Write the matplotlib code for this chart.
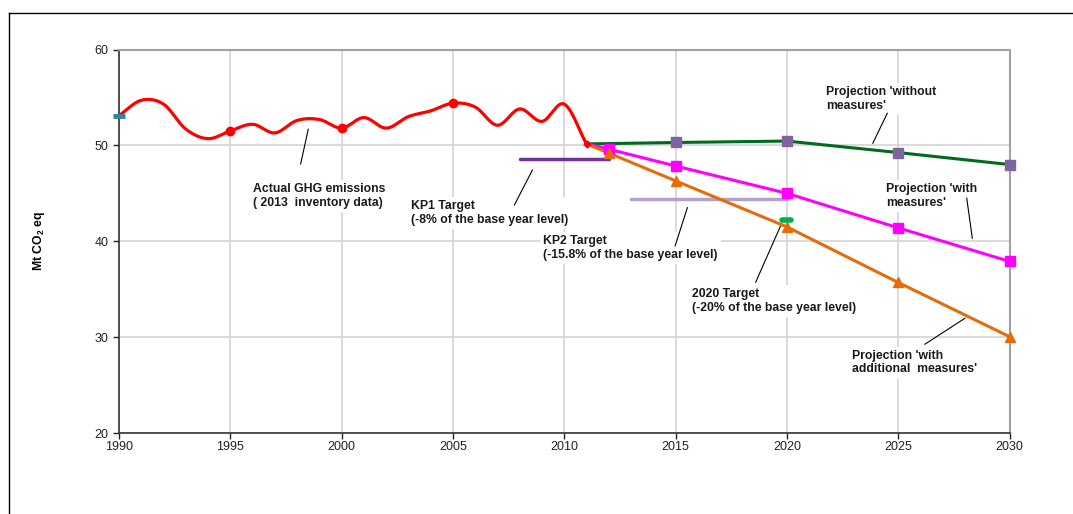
import numpy as np
import matplotlib
matplotlib.use("Agg")
import matplotlib.pyplot as plt
from matplotlib.lines import Line2D

plt.rcParams['font.family'] = ['Liberation Sans', 'DejaVu Sans']
plt.rcParams['mathtext.fontset'] = 'custom'
plt.rcParams['mathtext.rm'] = 'Liberation Sans'
plt.rcParams['mathtext.bf'] = 'Liberation Sans:bold'

# ---------------- data ----------------
hist_years = list(range(1990, 2012))
hist_values = [53.1, 54.7, 54.3, 51.7, 50.7, 51.5, 52.2, 51.3, 52.6, 52.7, 51.8,
               52.9, 51.8, 53.0, 53.6, 54.4, 54.0, 52.1, 53.8, 52.5, 54.3, 50.15]
hist_marker_years = [1995, 2000, 2005]

proj_years = [2011, 2015, 2020, 2025, 2030]
wom_values = [50.15, 50.3, 50.45, 49.25, 48.0]

wm_years = [2011, 2012, 2015, 2020, 2025, 2030]
wm_values = [50.15, 49.6, 47.85, 45.0, 41.4, 37.9]

wam_years = [2011, 2012, 2015, 2020, 2025, 2030]
wam_values = [50.15, 49.2, 46.3, 41.5, 35.7, 30.05]

kp1_years = [2008, 2012]
kp1_value = 48.6
kp2_years = [2013, 2020]
kp2_value = 44.4
t2020_year = 2020
t2020_value = 42.2

x_ticks = [1990, 1995, 2000, 2005, 2010, 2015, 2020, 2025, 2030]
y_ticks = [20, 30, 40, 50, 60]


def catmull_rom(xs, ys, n=30):
    xs = np.asarray(xs, float)
    ys = np.asarray(ys, float)
    P = np.column_stack([xs, ys])
    P = np.vstack([P[0] - (P[1] - P[0]), P, P[-1] + (P[-1] - P[-2])])
    out = []
    t = np.linspace(0, 1, n, endpoint=False)[:, None]
    for i in range(1, len(P) - 2):
        p0, p1, p2, p3 = P[i - 1], P[i], P[i + 1], P[i + 2]
        c1 = p1 + (p2 - p0) / 6.0
        c2 = p2 - (p3 - p1) / 6.0
        seg = ((1 - t) ** 3) * p1 + 3 * ((1 - t) ** 2) * t * c1 + 3 * (1 - t) * t ** 2 * c2 + t ** 3 * p2
        out.append(seg)
    out.append(P[-2][None, :])
    out = np.vstack(out)
    return out[:, 0], out[:, 1]


fig = plt.figure(figsize=(10.73, 5.14), dpi=100)
W, H = 1073, 514
L, R, T, B = 119, 1009.5, 49.5, 433
ax = fig.add_axes([L / W, 1 - B / H, (R - L) / W, (B - T) / H])

# figure frame (top and left)
fig.add_artist(Line2D([9.3 / W, 1.0], [1 - 13.3 / H, 1 - 13.3 / H], color='black', lw=1.0))
fig.add_artist(Line2D([9.3 / W, 9.3 / W], [0, 1 - 13.3 / H], color='black', lw=1.0))

ax.set_xlim(1990, 2030)
ax.set_ylim(20, 60)
ax.set_xticks(x_ticks)
ax.set_yticks(y_ticks)
ax.grid(True, color='#D4D4D4', lw=1.2, zorder=0)
ax.set_axisbelow(True)
ax.tick_params(labelsize=9, colors='#222222', length=4, width=1, direction='out')
ax.tick_params(axis='x', pad=2)
for s in ['left', 'bottom']:
    ax.spines[s].set_color('#333333')
    ax.spines[s].set_linewidth(1.2)
for s in ['top', 'right']:
    ax.spines[s].set_color('#A0A0A0')
    ax.spines[s].set_linewidth(1.5)

ax.set_ylabel(r"Mt CO$_\mathbf{2}$ eq", fontsize=8.8, fontweight='bold', labelpad=34)

# historical smoothed line
sx, sy = catmull_rom(hist_years, hist_values)
ax.plot(sx, sy, color='#FF0000', lw=2.3, zorder=4, solid_capstyle='round')
mk_vals = [hist_values[hist_years.index(y)] for y in hist_marker_years]
ax.plot(hist_marker_years, mk_vals, 'o', color='#FF0000', ms=6, zorder=5)
ax.plot([hist_years[0]], [hist_values[0]], marker='_', color='#31859C', ms=8, mew=3.5, zorder=6, clip_on=False)
ax.plot([hist_years[-1]], [hist_values[-1]], marker='D', color='#FF0000', ms=3.5, zorder=5)

# targets
ax.plot(kp1_years, [kp1_value] * 2, color='#7030A0', lw=2.5, zorder=3, solid_capstyle='round')
ax.plot(kp2_years, [kp2_value] * 2, color='#B3A2C7', lw=2.5, zorder=3, solid_capstyle='round')
ax.plot([t2020_year - 0.2, t2020_year + 0.2], [t2020_value] * 2, color='#00B050', lw=4,
        solid_capstyle='round', zorder=6)

# projections
ax.plot(proj_years, wom_values, color='#006B1E', lw=2.2, zorder=4)
ax.plot(proj_years[1:], wom_values[1:], 's', color='#8064A2', ms=6.5, zorder=5, clip_on=False)
ax.plot(wm_years, wm_values, color='#FF00FF', lw=2.2, zorder=4)
ax.plot(wm_years[1:], wm_values[1:], 's', color='#FF00FF', ms=6.5, zorder=5, clip_on=False)
ax.plot(wam_years, wam_values, color='#E46C0A', lw=2.2, zorder=4)
ax.plot(wam_years[1:], wam_values[1:], '^', color='#E46C0A', ms=7, zorder=5, clip_on=False)

# annotations
notes = [
    ("Actual GHG emissions\n( 2013  inventory data)", (1996.0, 46.07), ((1998.5, 51.68), (1998.16, 48.06))),
    ("KP1 Target\n(-8% of the base year level)", (2003.1, 44.33), ((2008.57, 47.43), (2007.76, 43.78))),
    ("KP2 Target\n(-15.8% of the base year level)", (2009.06, 40.68), ((2015.53, 43.5), (2014.98, 39.51))),
    ("2020 Target\n(-20% of the base year level)", (2015.73, 35.12), ((2019.77, 41.88), (2018.6, 35.73))),
    ("Projection 'with\nmeasures'", (2024.46, 46.07), ((2028.08, 44.48), (2028.33, 40.31))),
    ("Projection 'without\nmeasures'", (2021.76, 56.15), ((2024.51, 53.35), (2023.86, 50.22))),
    ("Projection 'with\nadditional  measures'", (2022.94, 28.69), ((2028.0, 31.97), (2026.2, 29.26))),
]
for txt, (tx, ty), (p1, p2) in notes:
    ax.text(tx, ty, txt, fontsize=8.8, fontweight='bold', color='#1a1a1a', ha='left', va='top',
            linespacing=1.2, zorder=2,
            bbox=dict(boxstyle='square,pad=0.25', facecolor='white', edgecolor='none'))
    ax.plot([p1[0], p2[0]], [p1[1], p2[1]], color='black', lw=0.8, zorder=3)

fig.savefig('out.png', dpi=100)
